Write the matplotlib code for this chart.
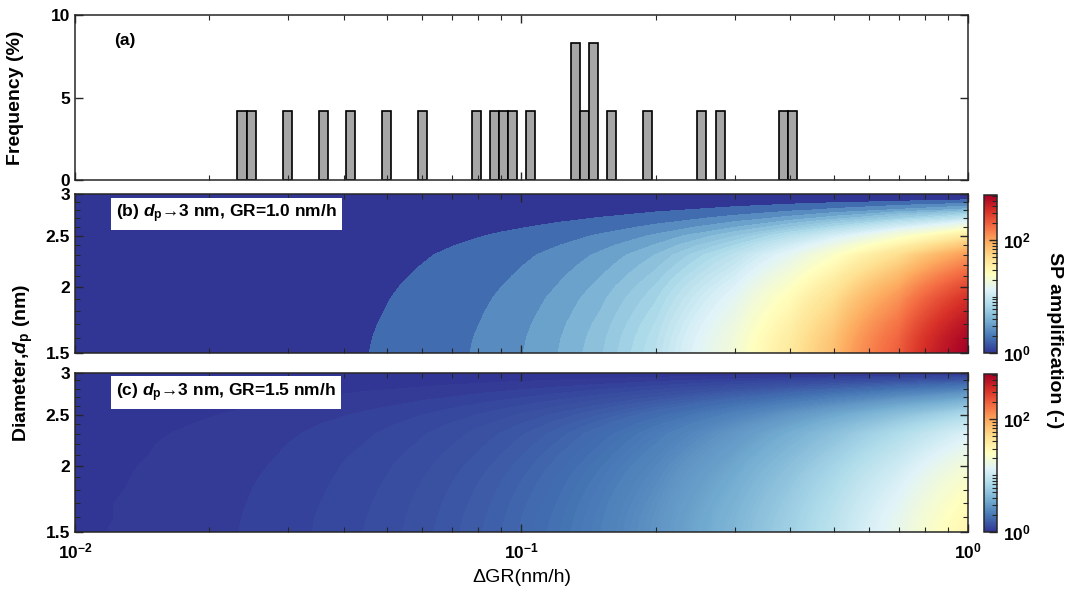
import matplotlib.pyplot as plt
import numpy as np
from matplotlib.colors import LogNorm
from matplotlib.cm import ScalarMappable
from matplotlib.ticker import FixedLocator, NullFormatter

plt.rcParams['font.family'] = ['Liberation Sans', 'DejaVu Sans']
plt.rcParams['font.weight'] = 'bold'
plt.rcParams['mathtext.fontset'] = 'custom'
plt.rcParams['mathtext.rm'] = 'Liberation Sans:bold'
plt.rcParams['mathtext.it'] = 'Liberation Sans:italic:bold'
plt.rcParams['mathtext.bf'] = 'Liberation Sans:bold'
plt.rcParams['axes.linewidth'] = 1.1
plt.rcParams['axes.edgecolor'] = '#262626'

# (a) histogram of dGR: log10 bins of equal width, occupied bins and frequency (%)
hist_bin0 = -1.636
hist_binw = 0.0202
hist_bins = [0, 1, 5, 9, 12, 16, 20, 26, 28, 29, 30, 32, 37, 38, 39, 41, 45, 51, 53, 60, 61]
hist_freq = [4.17, 4.17, 4.17, 4.17, 4.17, 4.17, 4.17, 4.17, 4.17, 4.17, 4.17, 4.17,
             8.33, 4.17, 8.33, 4.17, 4.17, 4.17, 4.17, 4.17, 4.17]

gr_grid = [0.01, 0.015, 0.02, 0.03, 0.04, 0.045, 0.05, 0.06, 0.07, 0.08,
           0.09, 0.1, 0.12, 0.15, 0.2, 0.3, 0.4, 0.5, 0.7, 1.0]
dp_grid = [1.5, 1.6, 1.7, 1.8, 1.9, 2.0, 2.1, 2.2, 2.3, 2.4, 2.5, 2.6, 2.7, 2.8, 2.9, 2.95, 3.0]

log_amp_b = [
    [0.055, 0.083, 0.110, 0.163, 0.215, 0.241, 0.267, 0.317, 0.366, 0.415, 0.462, 0.509, 0.600, 0.730, 0.933, 1.292, 1.600, 1.867, 2.306, 2.800],
    [0.055, 0.082, 0.108, 0.161, 0.212, 0.237, 0.263, 0.312, 0.361, 0.409, 0.455, 0.501, 0.591, 0.719, 0.919, 1.273, 1.576, 1.839, 2.271, 2.758],
    [0.053, 0.079, 0.105, 0.157, 0.207, 0.231, 0.256, 0.304, 0.352, 0.398, 0.444, 0.489, 0.576, 0.701, 0.896, 1.241, 1.536, 1.792, 2.214, 2.688],
    [0.052, 0.077, 0.102, 0.152, 0.200, 0.224, 0.248, 0.295, 0.341, 0.386, 0.430, 0.473, 0.558, 0.679, 0.868, 1.202, 1.488, 1.736, 2.144, 2.604],
    [0.050, 0.075, 0.099, 0.147, 0.194, 0.217, 0.240, 0.285, 0.330, 0.373, 0.416, 0.458, 0.540, 0.657, 0.840, 1.163, 1.440, 1.680, 2.075, 2.520],
    [0.048, 0.071, 0.095, 0.141, 0.186, 0.208, 0.230, 0.273, 0.316, 0.358, 0.399, 0.439, 0.517, 0.630, 0.805, 1.114, 1.379, 1.609, 1.988, 2.414],
    [0.045, 0.068, 0.090, 0.134, 0.177, 0.198, 0.219, 0.260, 0.300, 0.340, 0.379, 0.417, 0.492, 0.599, 0.765, 1.060, 1.312, 1.531, 1.891, 2.296],
    [0.043, 0.064, 0.085, 0.126, 0.167, 0.187, 0.207, 0.246, 0.284, 0.321, 0.358, 0.395, 0.465, 0.566, 0.723, 1.002, 1.240, 1.447, 1.787, 2.170],
    [0.040, 0.060, 0.080, 0.119, 0.157, 0.176, 0.195, 0.231, 0.267, 0.303, 0.338, 0.372, 0.438, 0.533, 0.681, 0.943, 1.168, 1.363, 1.683, 2.044],
    [0.036, 0.054, 0.072, 0.107, 0.141, 0.158, 0.175, 0.208, 0.240, 0.272, 0.303, 0.333, 0.393, 0.478, 0.611, 0.846, 1.048, 1.223, 1.510, 1.834],
    [0.032, 0.047, 0.063, 0.093, 0.123, 0.137, 0.152, 0.181, 0.209, 0.236, 0.264, 0.290, 0.342, 0.416, 0.532, 0.737, 0.912, 1.064, 1.314, 1.596],
    [0.025, 0.038, 0.051, 0.075, 0.099, 0.111, 0.123, 0.146, 0.169, 0.191, 0.213, 0.234, 0.276, 0.336, 0.429, 0.594, 0.736, 0.859, 1.061, 1.288],
    [0.019, 0.029, 0.038, 0.056, 0.074, 0.083, 0.092, 0.109, 0.126, 0.143, 0.160, 0.176, 0.207, 0.252, 0.322, 0.446, 0.552, 0.644, 0.796, 0.966],
    [0.013, 0.019, 0.025, 0.037, 0.049, 0.055, 0.061, 0.072, 0.084, 0.095, 0.105, 0.116, 0.137, 0.167, 0.213, 0.295, 0.365, 0.426, 0.526, 0.638],
    [0.006, 0.009, 0.012, 0.018, 0.024, 0.027, 0.030, 0.036, 0.041, 0.047, 0.052, 0.058, 0.068, 0.083, 0.105, 0.146, 0.181, 0.211, 0.261, 0.316],
    [0.003, 0.005, 0.006, 0.009, 0.012, 0.014, 0.015, 0.018, 0.021, 0.023, 0.026, 0.029, 0.034, 0.041, 0.052, 0.072, 0.090, 0.105, 0.129, 0.157],
    [0.0] * 20,
]

log_amp_c = [
    [0.025, 0.037, 0.049, 0.073, 0.097, 0.109, 0.120, 0.144, 0.167, 0.189, 0.211, 0.233, 0.277, 0.339, 0.439, 0.622, 0.786, 0.933, 1.188, 1.493],
    [0.024, 0.036, 0.048, 0.072, 0.096, 0.107, 0.119, 0.141, 0.164, 0.186, 0.208, 0.230, 0.272, 0.334, 0.433, 0.613, 0.774, 0.919, 1.170, 1.471],
    [0.024, 0.036, 0.047, 0.070, 0.093, 0.104, 0.116, 0.138, 0.160, 0.181, 0.203, 0.224, 0.265, 0.326, 0.422, 0.597, 0.755, 0.896, 1.140, 1.434],
    [0.023, 0.034, 0.046, 0.068, 0.090, 0.101, 0.112, 0.134, 0.155, 0.176, 0.197, 0.217, 0.257, 0.316, 0.408, 0.579, 0.731, 0.868, 1.105, 1.389],
    [0.022, 0.033, 0.044, 0.066, 0.087, 0.098, 0.108, 0.129, 0.150, 0.170, 0.190, 0.210, 0.249, 0.305, 0.395, 0.560, 0.707, 0.840, 1.069, 1.344],
    [0.021, 0.032, 0.042, 0.063, 0.084, 0.094, 0.104, 0.124, 0.144, 0.163, 0.182, 0.201, 0.238, 0.293, 0.379, 0.536, 0.678, 0.805, 1.024, 1.287],
    [0.020, 0.030, 0.040, 0.060, 0.080, 0.089, 0.099, 0.118, 0.137, 0.155, 0.173, 0.191, 0.227, 0.278, 0.360, 0.510, 0.645, 0.765, 0.974, 1.225],
    [0.019, 0.029, 0.038, 0.057, 0.075, 0.084, 0.093, 0.111, 0.129, 0.146, 0.164, 0.181, 0.214, 0.263, 0.340, 0.482, 0.609, 0.723, 0.921, 1.157],
    [0.018, 0.027, 0.036, 0.053, 0.071, 0.079, 0.088, 0.105, 0.122, 0.138, 0.154, 0.170, 0.202, 0.248, 0.321, 0.454, 0.574, 0.681, 0.867, 1.090],
    [0.016, 0.024, 0.032, 0.048, 0.064, 0.071, 0.079, 0.094, 0.109, 0.124, 0.138, 0.153, 0.181, 0.222, 0.288, 0.408, 0.515, 0.611, 0.778, 0.978],
    [0.014, 0.021, 0.028, 0.042, 0.055, 0.062, 0.069, 0.082, 0.095, 0.108, 0.120, 0.133, 0.158, 0.193, 0.250, 0.355, 0.448, 0.532, 0.677, 0.851],
    [0.011, 0.017, 0.023, 0.034, 0.045, 0.050, 0.055, 0.066, 0.077, 0.087, 0.097, 0.107, 0.127, 0.156, 0.202, 0.286, 0.362, 0.429, 0.546, 0.687],
    [0.009, 0.013, 0.017, 0.025, 0.033, 0.038, 0.042, 0.050, 0.057, 0.065, 0.073, 0.080, 0.095, 0.117, 0.152, 0.215, 0.271, 0.322, 0.410, 0.515],
    [0.006, 0.008, 0.011, 0.017, 0.022, 0.025, 0.027, 0.033, 0.038, 0.043, 0.048, 0.053, 0.063, 0.077, 0.100, 0.142, 0.179, 0.213, 0.271, 0.340],
    [0.003, 0.004, 0.006, 0.008, 0.011, 0.012, 0.014, 0.016, 0.019, 0.021, 0.024, 0.026, 0.031, 0.038, 0.050, 0.070, 0.089, 0.105, 0.134, 0.169],
    [0.001, 0.002, 0.003, 0.004, 0.005, 0.006, 0.007, 0.008, 0.009, 0.011, 0.012, 0.013, 0.015, 0.019, 0.025, 0.035, 0.044, 0.052, 0.067, 0.084],
    [0.0] * 20,
]

amp_max = 631
step_b = 0.755
step_c = 0.07

fig = plt.figure(figsize=(10.71, 5.97), dpi=100)
ax_a = fig.add_axes([0.0700, 0.6992, 0.8338, 0.2749])
ax_b = fig.add_axes([0.0700, 0.4092, 0.8338, 0.2658])
ax_c = fig.add_axes([0.0700, 0.1094, 0.8338, 0.2663])
cax_b = fig.add_axes([0.9188, 0.4087, 0.0121, 0.2647])
cax_c = fig.add_axes([0.9188, 0.1094, 0.0121, 0.2641])

tick_col = '#262626'


def style_ticks(ax):
    ax.tick_params(which='both', direction='in', top=True, right=True,
                   labelsize=12.5, color=tick_col)
    ax.tick_params(which='major', length=6, width=1.0)
    ax.tick_params(which='minor', length=3.5, width=0.8)
    ax.tick_params(axis='x', pad=7)


# (a)
k = np.array(hist_bins)
left = 10 ** (hist_bin0 + k * hist_binw)
right = 10 ** (hist_bin0 + (k + 1) * hist_binw)
ax_a.bar(left, hist_freq, width=right - left, align='edge',
         color='#a6a6a6', edgecolor='k', linewidth=1.2)
ax_a.set_xscale('log')
ax_a.set_xlim(0.01, 1)
ax_a.set_ylim(0, 10)
ax_a.set_yticks([0, 5, 10])
ax_a.tick_params(labelbottom=False)
style_ticks(ax_a)
ax_a.set_ylabel('Frequency (%)', fontsize=14, fontweight='bold')
ax_a.yaxis.set_label_coords(-0.057, 0.5)
ax_a.text(0.044, 0.82, '(a)', transform=ax_a.transAxes, fontsize=12.5)

# (b), (c)
cmap = plt.get_cmap('RdYlBu_r')
norm = LogNorm(1, amp_max)
panels = [
    (ax_b, cax_b, log_amp_b, step_b, '(b) $d_{\\rm p}$\u21923 nm, GR=1.0 nm/h'),
    (ax_c, cax_c, log_amp_c, step_c, '(c) $d_{\\rm p}$\u21923 nm, GR=1.5 nm/h'),
]
for ax, cax, vals, step, title in panels:
    amp = 10 ** np.array(vals)
    levels = np.arange(1.0, amp.max() + step, step)
    ax.contourf(gr_grid, dp_grid, amp, levels=levels,
                colors=cmap(norm(levels[:-1])), antialiased=False)
    ax.set_xscale('log')
    ax.set_yscale('log')
    ax.set_xlim(0.01, 1)
    ax.set_ylim(1.5, 3)
    ax.yaxis.set_major_locator(FixedLocator([1.5, 2, 2.5, 3]))
    ax.yaxis.set_major_formatter(plt.FixedFormatter(['1.5', '2', '2.5', '3']))
    ax.yaxis.set_minor_locator(FixedLocator([1.6, 1.7, 1.8, 1.9, 2.1, 2.2, 2.3, 2.4,
                                             2.6, 2.7, 2.8, 2.9]))
    ax.yaxis.set_minor_formatter(NullFormatter())
    style_ticks(ax)
    ax.text(0.046, 0.875, title, transform=ax.transAxes, fontsize=12.5, va='center',
            bbox=dict(facecolor='white', edgecolor='none', pad=3.5))

    cb = fig.colorbar(ScalarMappable(norm=norm, cmap=cmap), cax=cax)
    cb.set_ticks([1, 100])
    cb.set_ticklabels([r'$\mathdefault{10^{0}}$', r'$\mathdefault{10^{2}}$'])
    cb.ax.yaxis.set_minor_locator(FixedLocator(
        [2, 3, 4, 5, 6, 7, 8, 9, 10, 20, 30, 40, 50, 60, 70, 80, 90, 200, 300, 400, 500, 600]))
    cb.ax.yaxis.set_minor_formatter(NullFormatter())
    cb.ax.tick_params(which='both', direction='in', labelsize=12.5, color=tick_col, pad=4)
    cb.ax.tick_params(which='major', length=6, width=1.0)
    cb.ax.tick_params(which='minor', length=3.5, width=0.8)
    cb.outline.set_linewidth(1.1)

ax_b.tick_params(labelbottom=False)

fig.text(0.0215, 0.392, r'Diameter,$d_{\rm p}$ (nm)', rotation=90,
         ha='center', va='center', fontsize=14)
fig.text(0.487, 0.032, '\u0394GR(nm/h)', ha='center', va='center',
         fontsize=14, fontweight='normal')
fig.text(0.985, 0.43, 'SP amplification (-)', rotation=270,
         ha='center', va='center', fontsize=14)

plt.savefig('out.png', dpi=100)
